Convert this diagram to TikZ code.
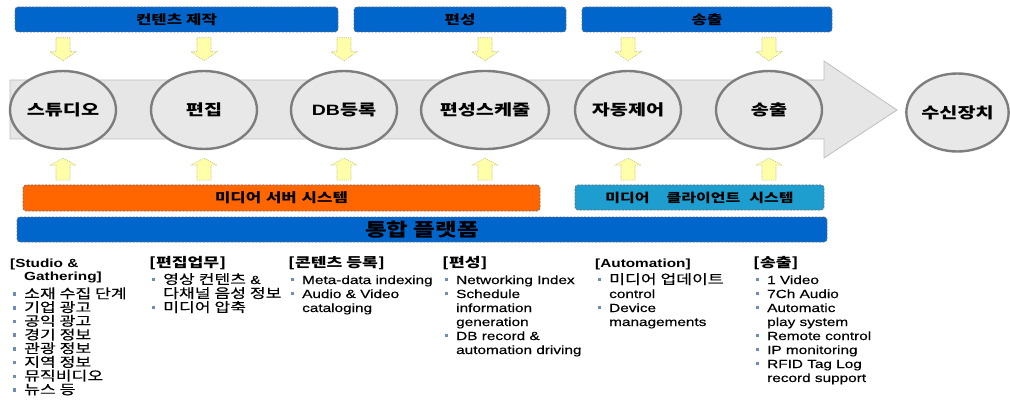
\documentclass[tikz,border=0pt]{standalone}
\usepackage{fontspec}
\setmainfont{Liberation Sans}[FakeStretch=1.3, UprightFeatures={FakeBold=0.35}]
\newfontfamily\krfont{Noto Sans CJK KR}[Scale=1.12, FakeStretch=1.3, UprightFeatures={FakeBold=0.35}]
\usetikzlibrary{shapes.geometric,calc}

\definecolor{barblue}{RGB}{0,102,204}
\definecolor{barorange}{RGB}{255,102,0}
\definecolor{barcyan}{RGB}{30,158,206}
\definecolor{barline}{RGB}{110,110,120}
\definecolor{flowfill}{RGB}{230,230,230}
\definecolor{flowline}{RGB}{190,190,190}
\definecolor{ringline}{RGB}{125,125,125}
\definecolor{ringfill}{RGB}{232,232,232}
\definecolor{hintfill}{RGB}{255,255,170}
\definecolor{hintline}{RGB}{195,195,130}
\definecolor{bulc}{RGB}{110,140,180}

% Korean runs keep the row height of the list lines
\newcommand\kr[1]{\smash{\krfont #1}}
\newcommand\bul{\makebox[14pt][l]{\hspace{2.5pt}\textcolor{bulc}{\rule[2.6pt]{3.4pt}{3.4pt}}}}
\newcommand\ind{\hspace*{14pt}}

\tikzset{
  bar/.style={rounded corners=3pt, draw=barline, line width=0.7pt,
    dash pattern=on 2pt off 1.5pt, inner sep=0pt, text=black,
    font=\krfont\fontsize{11.5}{14}\selectfont\bfseries},
  ring/.style={ellipse, draw=ringline, line width=2.4pt, fill=ringfill,
    minimum width=106pt, minimum height=78pt, inner sep=0pt,
    font=\krfont\fontsize{13.5}{16}\selectfont\bfseries},
  flow/.style={fill=flowfill, draw=flowline, line width=0.8pt},
  hint/.style={fill=hintfill, draw=hintline, line width=0.6pt,
    dash pattern=on 1.2pt off 1pt},
  col/.style={anchor=base west, inner sep=0pt,
    font=\fontsize{11.8}{14}\selectfont},
  hintdown/.pic={\draw[hint] (-7,-23) -- (7,-23) -- (7,-9) -- (13,-9)
    -- (0,0) -- (-13,-9) -- (-7,-9) -- cycle;},
  hintup/.pic={\draw[hint] (-7,22) -- (7,22) -- (7,7) -- (13,7)
    -- (0,0) -- (-13,7) -- (-7,7) -- cycle;},
}

\begin{document}
\begin{tikzpicture}[x=1pt,y=-1pt]
\useasboundingbox (0,0) rectangle (1010,401);

% process band
\draw[flow] (10,80) -- (824,80) -- (824,61) -- (897,110) -- (824,158)
  -- (824,139) -- (10,139) -- cycle;

% stage bars on top
\node[bar, fill=barblue, minimum width=323pt, minimum height=25pt] (b1) at (176.5,19.5) {컨텐츠 제작};
\node[bar, fill=barblue, minimum width=212pt, minimum height=25pt] (b2) at (460,19.5) {편성};
\node[bar, fill=barblue, minimum width=250pt, minimum height=25pt] (b3) at (707,19.5) {송출};

% process steps
\node[ring] (e1) at (63,110) {스튜디오};
\node[ring] (e2) at (204,110) {편집};
\node[ring] (e3) at (344,110) {{\rmfamily\fontsize{15}{16}\selectfont\bfseries DB}등록};
\node[ring, minimum width=110pt] (e4) at (485,110) {편성스케줄};
\node[ring] (e5) at (628,110) {자동제어};
\node[ring] (e6) at (769,110) {송출};
\node[ring, minimum width=98pt] (e7) at (957.5,112.5) {수신장치};

% hint arrows
\foreach \e in {e1,e2,e3,e4,e5,e6} {
  \pic at ($(\e.north)+(0,-9)$) {hintdown};
  \pic at ($(\e.south)+(0,8)$) {hintup};
}

% systems and platform
\node[bar, fill=barorange, minimum width=517pt, minimum height=26pt] (srv) at (281.5,198) {미디어\hspace{1pt} 서버\hspace{1pt} 시스템};
\node[bar, fill=barcyan, minimum width=249pt, minimum height=25pt,
  font=\krfont\fontsize{11}{14}\selectfont\bfseries] (cli) at (699.5,197.5) {미디어\hspace{17pt}클라이언트\hspace{9pt}시스템};
\node[bar, fill=barblue, minimum width=810pt, minimum height=25pt,
  font=\krfont\fontsize{16.2}{20}\selectfont\bfseries] (plat) at (422,229.5) {통합 플랫폼};

% task lists
\node[col, font=\fontsize{11.8}{13.7}\selectfont] (t1) at (10,267) {\begin{tabular}[t]{@{}l@{}}
  \bfseries [Studio \&\\
  \ind\bfseries Gathering]\\[4pt]
  \bul\kr{소재 수집 단계}\\
  \bul\kr{기업 광고}\\
  \bul\kr{공익 광고}\\
  \bul\kr{경기 정보}\\
  \bul\kr{관광 정보}\\
  \bul\kr{지역 정보}\\
  \bul\kr{뮤직비디오}\\
  \bul\kr{뉴스 등}
\end{tabular}};

\node[col] (t2) at (149,267) {\begin{tabular}[t]{@{}l@{}}
  \kr{\bfseries [편집업무]}\\[3pt]
  \bul\kr{영상 컨텐츠} \&\\
  \ind\kr{다채널 음성 정보}\\
  \bul\kr{미디어 압축}
\end{tabular}};

\node[col] (t3) at (288,267) {\begin{tabular}[t]{@{}l@{}}
  \kr{\bfseries [콘텐츠 등록]}\\[3pt]
  \bul Meta-data indexing\\
  \bul Audio \& Video\\
  \ind cataloging
\end{tabular}};

\node[col] (t4) at (442,267) {\begin{tabular}[t]{@{}l@{}}
  \kr{\bfseries [편성]}\\[3pt]
  \bul Networking Index\\
  \bul Schedule\\
  \ind information\\
  \ind generation\\
  \bul DB record \&\\
  \ind automation driving
\end{tabular}};

\node[col] (t5) at (595,267) {\begin{tabular}[t]{@{}l@{}}
  \bfseries [Automation]\\[3pt]
  \bul\kr{미디어 업데이트}\\
  \ind control\\
  \bul Device\\
  \ind managements
\end{tabular}};

\node[col] (t6) at (753,267) {\begin{tabular}[t]{@{}l@{}}
  \kr{\bfseries [송출]}\\[3pt]
  \bul 1 Video\\
  \bul 7Ch Audio\\
  \bul Automatic\\
  \ind play system\\
  \bul Remote control\\
  \bul IP monitoring\\
  \bul RFID Tag Log\\
  \ind record support
\end{tabular}};
\end{tikzpicture}
\end{document}
